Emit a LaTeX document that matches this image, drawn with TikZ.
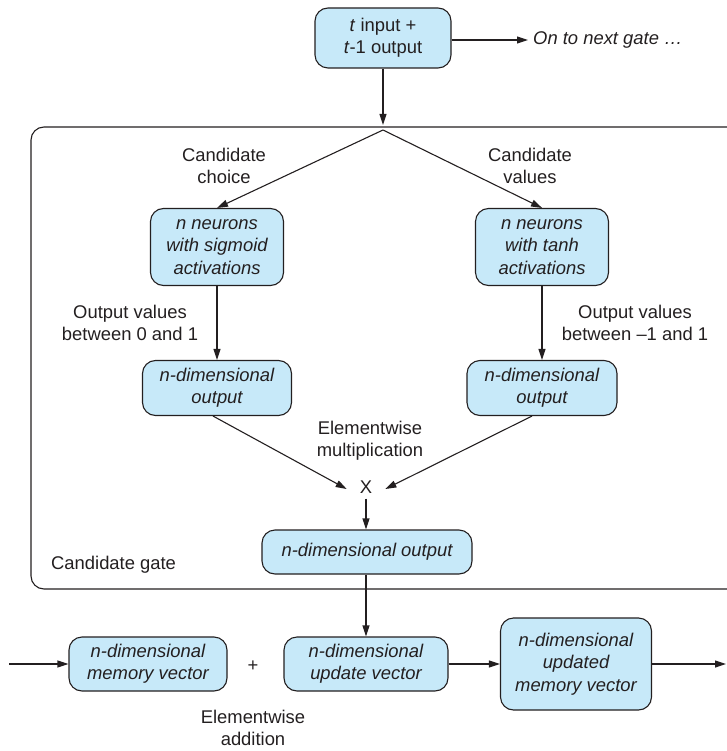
\documentclass[tikz,border=0pt]{standalone}
\usepackage{fontspec}
\setmainfont{Liberation Sans}
\usetikzlibrary{arrows.meta}
\definecolor{boxfill}{RGB}{199,233,249}
\definecolor{ink}{RGB}{35,31,32}
\begin{document}
\begin{tikzpicture}[x=1pt,y=-1pt,
  font=\fontsize{18.4}{22.3}\selectfont,
  every node/.style={text=ink},
  box/.style={draw=ink, line width=1.1pt, fill=boxfill, rounded corners=13pt,
    align=center, inner sep=0pt, font=\fontsize{18.4}{22.3}\selectfont\itshape},
  lbl/.style={align=center, inner sep=0pt},
  conn/.style={draw=ink, line width=1.1pt, -{Triangle[length=11pt,width=7pt]}},
  plain/.style={draw=ink, line width=1.1pt}]
\useasboundingbox (0,0) rectangle (726,751);

% candidate gate frame
\draw[plain, rounded corners=13pt] (760,127) -- (31,127) -- (31,589) -- (760,589);

% nodes
\node[box, minimum width=136pt, minimum height=60pt, font=\fontsize{18.4}{22.3}\selectfont] (top) at (383,38)
  {\textit{t} input +\\\textit{t}-1 output};
\node[lbl, anchor=west, font=\fontsize{18.4}{22.3}\selectfont\itshape] (next) at (533,40) {On to next gate …};
\coordinate (nextend) at (528,40);
\coordinate (apex) at (383,130);

\node[box, minimum width=133pt, minimum height=77pt] (sig) at (217,247)
  {n neurons\\with sigmoid\\activations};
\node[box, minimum width=133pt, minimum height=77pt] (tanh) at (542,247)
  {n neurons\\with tanh\\activations};
\node[box, minimum width=149pt, minimum height=55pt] (outL) at (217,388)
  {n-dimensional\\output};
\node[box, minimum width=150pt, minimum height=55pt] (outR) at (542,388)
  {n-dimensional\\output};
\node[lbl, inner xsep=13pt, inner ysep=5pt] (X) at (366,487) {X};
\node[box, minimum width=210pt, minimum height=44pt] (outC) at (367,552)
  {n-dimensional output};

\node[box, minimum width=158pt, minimum height=54pt] (mem) at (148,664)
  {n-dimensional\\memory vector};
\node[box, minimum width=164pt, minimum height=54pt] (upd) at (366,664)
  {n-dimensional\\update vector};
\node[box, minimum width=151pt, minimum height=92pt] (updd) at (576,664)
  {n-dimensional\\updated\\memory vector};
\coordinate (inL) at (9,664);
\coordinate (outRt) at (726,664);

% labels
\node[lbl] (cc) at (224,166) {Candidate\\choice};
\node[lbl] (cv) at (530,166) {Candidate\\values};
\node[lbl] (ov1) at (130,323) {Output values\\between 0 and 1};
\node[lbl] (ov2) at (635,323) {Output values\\between –1 and 1};
\node[lbl] (em) at (370,441) {Elementwise\\multiplication};
\node[lbl, anchor=west] (cg) at (51,565) {Candidate gate};
\node[lbl] (plus) at (253,666) {+};
\node[lbl] (ea) at (253,728) {Elementwise\\addition};

% connectors
\draw[conn] (top.east |- nextend) -- (nextend);
\draw[conn] (top.south) -- (top.south |- 0,125);
\draw[conn] (apex) -- (sig.north);
\draw[conn] (apex) -- (tanh.north);
\draw[conn] (sig.south) -- (outL.north);
\draw[conn] (tanh.south) -- (outR.north);
\draw[conn] ([xshift=-4pt]outL.south) -- ([yshift=-2pt]X.west);
\draw[conn] ([xshift=-10pt]outR.south) -- ([yshift=-2pt]X.east);
\draw[conn] (X.south) -- (X.south |- outC.north);
\draw[conn] (outC.south -| upd.north) -- (upd.north);
\draw[conn] (inL) -- (mem.west);
\draw[conn] (upd.east) -- (updd.west);
\draw[conn] (updd.east) -- (outRt);
\end{tikzpicture}
\end{document}
